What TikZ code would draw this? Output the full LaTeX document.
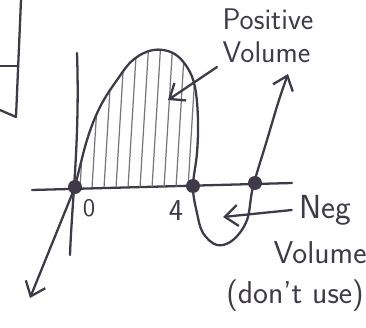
\documentclass[tikz,border=0pt]{standalone}
\usepackage{xcolor}
\usepackage{tikz}
\usetikzlibrary{arrows.meta, positioning}

\definecolor{pen}{RGB}{62,58,72}

\begin{document}
\begin{tikzpicture}[
    x=0.02cm, y=-0.02cm,
    pen_line/.style={draw=pen, line width=1.3pt, line cap=round, line join=round},
    hatch/.style={draw=pen!70, line width=0.7pt},
    dot/.style={circle, fill=pen, inner sep=0pt, minimum size=2.8mm},
    hand/.style={text=pen, font=\sffamily, inner sep=1pt},
    >={Straight Barb[length=2.6mm, width=4.2mm]},
]
    \useasboundingbox (0,0) rectangle (366,328);

    % piece of the previous sketch at the left edge
    \draw[pen_line] (0,66) -- (18,66);
    \draw[pen_line] (21,0) -- (16,117) -- (0,110);

    % axes
    \draw[pen_line] (32,190) -- (292,183);
    \draw[pen_line] (77,53) .. controls (80,140) and (72,200) .. (70,255);

    % shaded region between 0 and 4
    \begin{scope}
        \clip plot[smooth, tension=0.6] coordinates {(75,187) (87,140) (100,107) (117,80)
            (133,60) (153,50) (173,53) (187,67) (195,87) (198,120) (197,153) (193,187)} -- cycle;
        \foreach \x in {80,92,...,200}
            \draw[hatch] (\x,188) -- (\x+9,40);
    \end{scope}

    % the cubic
    \draw[pen_line, <-] (30,298) -- (75,187);
    \draw[pen_line, ->] plot[smooth, tension=0.6] coordinates {(75,187) (87,140) (100,107)
        (117,80) (133,60) (153,50) (173,53) (187,67) (195,87) (198,120) (197,153) (193,187)
        (197,213) (203,233) (217,245) (233,240) (247,220) (253,187) (267,140) (279,100) (288,74)};

    % roots
    \node[dot] (root0) at (75,187) {};
    \node[dot] (root4) at (193,186) {};
    \node[dot] (root3) at (255,183) {};
    \node[hand, font=\sffamily\Large] (lab0) at (89,208) {0};
    \node[hand, font=\sffamily\LARGE] (lab4) at (176,211) {4};

    % labels
    \node[hand, font=\sffamily\fontsize{17}{19}\selectfont, align=left] (posvol) at (268,36)
        {Positive\\Volume};
    \coordinate (postip) at (168,100);
    \draw[pen_line, ->] ([xshift=-2pt, yshift=-1pt]posvol.south west) -- (postip);

    \node[hand, font=\sffamily\fontsize{19}{24}\selectfont] (neg) at (325,210) {Neg};
    \node[hand, font=\sffamily\fontsize{18}{24}\selectfont] (negvol) at (320,253) {Volume};
    \node[hand, font=\sffamily\fontsize{18}{24}\selectfont] (dontuse) at (295,296) {(don't use)};
    \coordinate (negtip) at (223,217);
    \draw[pen_line, ->] ([xshift=-3pt]neg.west) -- (negtip);
\end{tikzpicture}
\end{document}
